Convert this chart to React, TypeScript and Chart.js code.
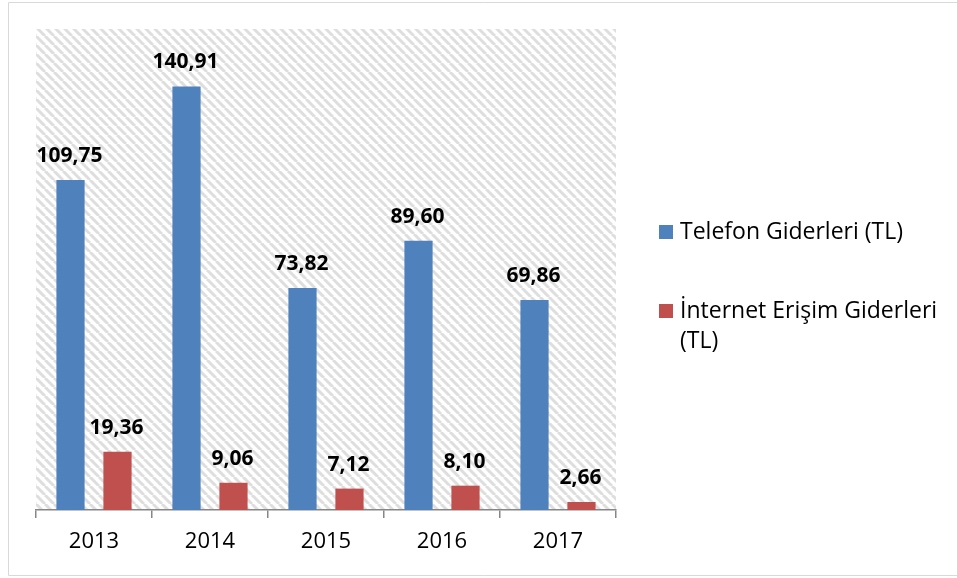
import React, { useEffect, useRef } from "react";
import { Chart, registerables } from "chart.js";

Chart.register(...registerables);

const categories = ["2013", "2014", "2015", "2016", "2017"];
const telefon = [109.75, 140.91, 73.82, 89.6, 69.86];
const internet = [19.36, 9.06, 7.12, 8.1, 2.66];
const seriesNames = ["Telefon Giderleri (TL)", "İnternet Erişim Giderleri (TL)"];
const legendLines = [["Telefon Giderleri (TL)"], ["İnternet Erişim Giderleri", "(TL)"]];
const seriesColors = ["#4F81BD", "#C0504D"];
const yMin = 0;
const yMax = 160;

const FONT = "'Open Sans', Lato, sans-serif";

const fmt = (v: number) => v.toFixed(2).replace(".", ",");

function makePattern(ctx: CanvasRenderingContext2D) {
  const s = 9;
  const c = document.createElement("canvas");
  c.width = s;
  c.height = s;
  const g = c.getContext("2d")!;
  g.fillStyle = "#ffffff";
  g.fillRect(0, 0, s, s);
  g.strokeStyle = "#dedede";
  g.lineWidth = 3;
  for (const off of [-s, 0, s]) {
    g.beginPath();
    g.moveTo(off, 0);
    g.lineTo(off + s, s);
    g.stroke();
  }
  return ctx.createPattern(c, "repeat");
}

const hatchPlugin = {
  id: "hatch",
  beforeDraw(chart: any) {
    const { ctx, chartArea } = chart;
    const p = makePattern(ctx);
    ctx.save();
    if (p) ctx.fillStyle = p;
    ctx.fillRect(chartArea.left, chartArea.top, chartArea.right - chartArea.left, chartArea.bottom - chartArea.top);
    ctx.restore();
  },
};

const labelPlugin = {
  id: "valueLabels",
  afterDatasetsDraw(chart: any) {
    const { ctx } = chart;
    ctx.save();
    ctx.font = `bold 21px ${FONT}`;
    ctx.fillStyle = "#000000";
    ctx.textAlign = "center";
    ctx.textBaseline = "alphabetic";
    chart.data.datasets.forEach((ds: any, i: number) => {
      const meta = chart.getDatasetMeta(i);
      meta.data.forEach((el: any, j: number) => {
        ctx.fillText(fmt(ds.data[j]), el.x - 1, el.y - 18);
      });
    });
    ctx.restore();
  },
};

const legendPlugin = {
  id: "sideLegend",
  afterDraw(chart: any) {
    const { ctx } = chart;
    ctx.save();
    ctx.font = `23px ${FONT}`;
    ctx.textAlign = "left";
    ctx.textBaseline = "alphabetic";
    const baselines = [239, 318];
    legendLines.forEach((lines, i) => {
      ctx.fillStyle = seriesColors[i];
      ctx.fillRect(659, baselines[i] - 14, 14, 14);
      ctx.fillStyle = "#000000";
      lines.forEach((t, k) => {
        ctx.fillText(t, 680, baselines[i] + k * 30);
      });
    });
    // outer frame
    ctx.strokeStyle = "#d9d9d9";
    ctx.lineWidth = 1;
    ctx.beginPath();
    ctx.moveTo(8.5, 575.5);
    ctx.lineTo(8.5, 2.5);
    ctx.lineTo(960, 2.5);
    ctx.moveTo(8.5, 575.5);
    ctx.lineTo(960, 575.5);
    ctx.stroke();
    ctx.restore();
  },
};

export default function App() {
  const ref = useRef<HTMLCanvasElement | null>(null);
  useEffect(() => {
    if (!ref.current) return;
    const chart = new Chart(ref.current, {
      type: "bar",
      data: {
        labels: categories,
        datasets: [
          { label: seriesNames[0], data: telefon, backgroundColor: seriesColors[0] },
          { label: seriesNames[1], data: internet, backgroundColor: seriesColors[1] },
        ],
      },
      options: {
        animation: false,
        responsive: false,
        devicePixelRatio: 1,
        layout: { padding: { left: 36, top: 29, right: 341, bottom: 0 } },
        datasets: {
          bar: { categoryPercentage: 0.81, barPercentage: 0.6 },
        },
        plugins: {
          legend: { display: false },
          tooltip: { enabled: false },
        },
        scales: {
          x: {
            grid: {
              display: true,
              drawOnChartArea: false,
              drawTicks: true,
              tickLength: 8,
              color: "#868686",
              lineWidth: 1.5,
            },
            border: { display: true, color: "#868686", width: 1.5 },
            ticks: {
              color: "#000000",
              font: { family: FONT, size: 22 },
              padding: 11,
              maxRotation: 0,
            },
            afterFit: (scale: any) => {
              scale.height = 68;
            },
          },
          y: {
            display: false,
            min: yMin,
            max: yMax,
          },
        },
      },
      plugins: [hatchPlugin, labelPlugin, legendPlugin],
    } as any);
    return () => chart.destroy();
  }, []);
  return (
    <div style={{ position: "absolute", left: 0, top: 0, width: 957, height: 578, background: "#ffffff" }}>
      <canvas ref={ref} width={957} height={578} />
    </div>
  );
}
